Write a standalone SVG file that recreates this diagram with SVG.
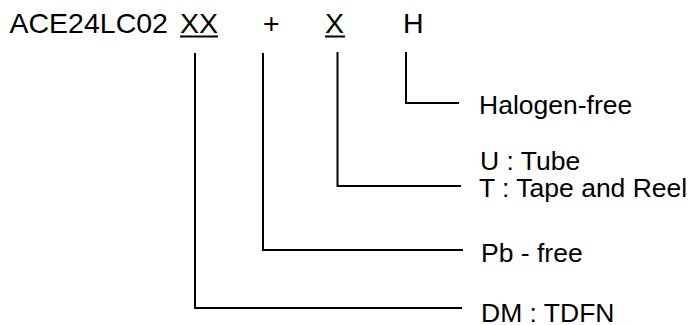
<svg xmlns="http://www.w3.org/2000/svg" width="693" height="325" viewBox="0 0 693 325">
<style>
.t{font-family:"Liberation Sans",Arial,sans-serif;fill:#000}
.title{font-size:28.5px}
.lbl{font-size:26.5px}
.c{fill:none;stroke:#000;stroke-width:2}
</style>
<rect width="693" height="325" fill="#fff"/>
<g id="title">
<text class="t title" x="9.5" y="32.5">ACE24LC02</text>
<text class="t title" x="180" y="32.5">XX</text>
<text class="t title" x="263" y="32.5">+</text>
<text class="t title" x="325" y="32.5">X</text>
<text class="t title" x="403" y="32.5">H</text>
<line class="c" x1="180" y1="36.5" x2="218" y2="36.5"/>
<line class="c" x1="325" y1="36.5" x2="345" y2="36.5"/>
</g>
<g id="connectors">
<polyline class="c" points="195,53 195,308 462,308"/>
<polyline class="c" points="263,53 263,250 463,250"/>
<polyline class="c" points="337.5,52 337.5,186 461,186"/>
<polyline class="c" points="406,52 406,103 459,103"/>
</g>
<g id="halogen"><text class="t lbl" x="479" y="114">Halogen-free</text></g>
<g id="packing">
<text class="t lbl" x="480" y="169.5">U : Tube</text>
<text class="t lbl" x="479" y="197">T : Tape and Reel</text>
</g>
<g id="pbfree"><text class="t lbl" x="481" y="262">Pb - free</text></g>
<g id="package"><text class="t lbl" x="481" y="322">DM : TDFN</text></g>
</svg>
